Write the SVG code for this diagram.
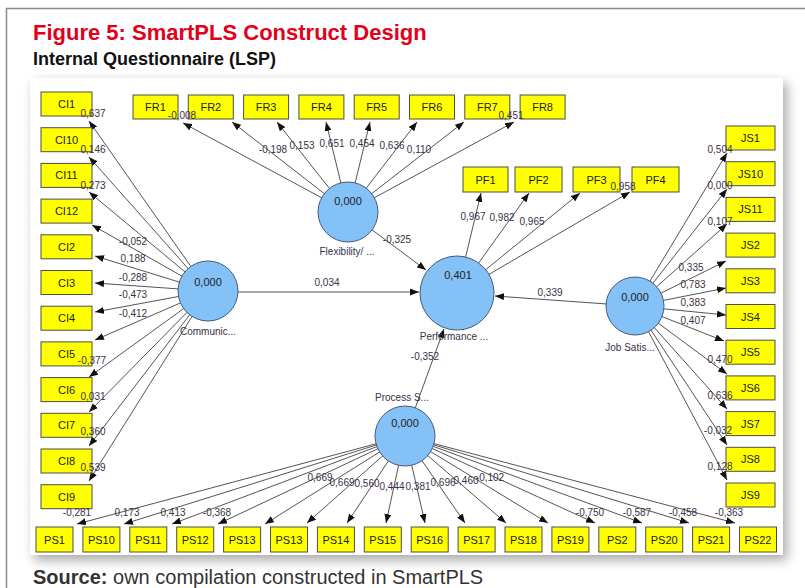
<svg xmlns="http://www.w3.org/2000/svg" width="805" height="588" viewBox="0 0 805 588">
<style>
.bx{fill:#ffff00;stroke:#4d4d4d;stroke-width:1}
.bt{font-family:"Liberation Sans",Arial,sans-serif;font-size:11px;fill:#222;text-anchor:middle}
.cc{fill:#84c1f7;stroke:#45597a;stroke-width:1}
.ct{font-family:"Liberation Sans",Arial,sans-serif;font-size:11px;fill:#222;text-anchor:middle}
.cl{font-family:"Liberation Sans",Arial,sans-serif;font-size:10px;fill:#3a3048;text-anchor:middle}
.c{stroke:#555;stroke-width:1;fill:none;marker-end:url(#ah)}
.v{font-family:"Liberation Sans",Arial,sans-serif;font-size:10px;fill:#3a3048;text-anchor:middle}
</style>
<defs>
<marker id="ah" markerUnits="userSpaceOnUse" markerWidth="9" markerHeight="7" refX="9" refY="3.5" orient="auto"><path d="M0,0 L9,3.5 L0,7 z" fill="#111"/></marker>
<filter id="sh" x="-5%" y="-5%" width="115%" height="115%"><feDropShadow dx="4" dy="5" stdDeviation="6" flood-color="#000" flood-opacity="0.35"/></filter>
</defs>
<rect width="805" height="588" fill="#fff"/>
<rect x="6.5" y="8.5" width="900" height="700" fill="none" stroke="#8c8c8c" stroke-width="1.5"/>
<text x="33" y="40" font-family="'Liberation Sans',Arial,sans-serif" font-size="22" font-weight="bold" fill="#e2001a">Figure 5: SmartPLS Construct Design</text>
<text x="33" y="65" font-family="'Liberation Sans',Arial,sans-serif" font-size="18" font-weight="bold" fill="#111">Internal Questionnaire (LSP)</text>
<rect x="30" y="78" width="753" height="477" fill="#fff" filter="url(#sh)"/>
<text x="33" y="584" font-family="'Liberation Sans',Arial,sans-serif" font-size="20" fill="#333"><tspan font-weight="bold">Source:</tspan> own compilation constructed in SmartPLS</text>

<g id="connectors">
<line class="c" x1="208" y1="291" x2="89" y2="121"/>
<line class="c" x1="208" y1="291" x2="89" y2="157"/>
<line class="c" x1="208" y1="291" x2="89" y2="192"/>
<line class="c" x1="208" y1="291" x2="92" y2="225"/>
<line class="c" x1="208" y1="291" x2="95" y2="256"/>
<line class="c" x1="208" y1="291" x2="95" y2="283"/>
<line class="c" x1="208" y1="291" x2="95" y2="312"/>
<line class="c" x1="208" y1="291" x2="95" y2="340"/>
<line class="c" x1="208" y1="291" x2="89" y2="377"/>
<line class="c" x1="208" y1="291" x2="89" y2="412"/>
<line class="c" x1="208" y1="291" x2="89" y2="446"/>
<line class="c" x1="208" y1="291" x2="89" y2="481"/>
<line class="c" x1="348" y1="212" x2="183" y2="123"/>
<line class="c" x1="348" y1="212" x2="232" y2="122"/>
<line class="c" x1="348" y1="212" x2="277" y2="122"/>
<line class="c" x1="348" y1="212" x2="326" y2="122"/>
<line class="c" x1="348" y1="212" x2="370" y2="122"/>
<line class="c" x1="348" y1="212" x2="417" y2="122"/>
<line class="c" x1="348" y1="212" x2="464" y2="122"/>
<line class="c" x1="348" y1="212" x2="514" y2="122"/>
<line class="c" x1="457" y1="293" x2="481" y2="193"/>
<line class="c" x1="457" y1="293" x2="529" y2="193"/>
<line class="c" x1="457" y1="293" x2="580" y2="193"/>
<line class="c" x1="457" y1="293" x2="630" y2="192"/>
<line class="c" x1="635" y1="306" x2="727" y2="153"/>
<line class="c" x1="635" y1="306" x2="727" y2="189"/>
<line class="c" x1="635" y1="306" x2="727" y2="224"/>
<line class="c" x1="635" y1="306" x2="726" y2="261"/>
<line class="c" x1="635" y1="306" x2="726" y2="288"/>
<line class="c" x1="635" y1="306" x2="726" y2="315"/>
<line class="c" x1="635" y1="306" x2="724" y2="341"/>
<line class="c" x1="635" y1="306" x2="727" y2="374"/>
<line class="c" x1="635" y1="306" x2="727" y2="409"/>
<line class="c" x1="635" y1="306" x2="727" y2="445"/>
<line class="c" x1="635" y1="306" x2="727" y2="480"/>
<line class="c" x1="405" y1="436" x2="77" y2="524"/>
<line class="c" x1="405" y1="436" x2="124" y2="524"/>
<line class="c" x1="405" y1="436" x2="172" y2="524"/>
<line class="c" x1="405" y1="436" x2="218" y2="524"/>
<line class="c" x1="405" y1="436" x2="265" y2="524"/>
<line class="c" x1="405" y1="436" x2="307" y2="523"/>
<line class="c" x1="405" y1="436" x2="347" y2="523"/>
<line class="c" x1="405" y1="436" x2="386" y2="523"/>
<line class="c" x1="405" y1="436" x2="425" y2="523"/>
<line class="c" x1="405" y1="436" x2="465" y2="523"/>
<line class="c" x1="405" y1="436" x2="506" y2="523"/>
<line class="c" x1="405" y1="436" x2="548" y2="523"/>
<line class="c" x1="405" y1="436" x2="595" y2="523"/>
<line class="c" x1="405" y1="436" x2="642" y2="523"/>
<line class="c" x1="405" y1="436" x2="689" y2="523"/>
<line class="c" x1="405" y1="436" x2="735" y2="523"/>
<line class="c" x1="208" y1="292" x2="419" y2="292"/>
<line class="c" x1="348" y1="212" x2="426" y2="270"/>
<line class="c" x1="635" y1="306" x2="495" y2="296"/>
<line class="c" x1="405" y1="436" x2="444" y2="329"/>
</g>

<g id="communication"><circle class="cc" cx="208" cy="291" r="30"/><text class="ct" x="208" y="286">0,000</text><text class="cl" x="208" y="335">Communic...</text></g>
<g id="flexibility"><circle class="cc" cx="348" cy="212" r="30"/><text class="ct" x="348" y="205">0,000</text><text class="cl" x="347" y="255">Flexibility/ ...</text></g>
<g id="performance"><circle class="cc" cx="457" cy="293" r="37"/><text class="ct" x="458" y="279">0,401</text><text class="cl" x="454" y="340">Performance ...</text></g>
<g id="jobsatisfaction"><circle class="cc" cx="635" cy="306" r="29"/><text class="ct" x="635" y="301">0,000</text><text class="cl" x="630" y="351">Job Satis...</text></g>
<g id="process"><circle class="cc" cx="405" cy="436" r="30"/><text class="ct" x="405" y="427">0,000</text><text class="cl" x="402" y="401">Process S...</text></g>

<g id="CI1"><rect class="bx" x="41" y="92" width="51" height="24"/><text class="bt" x="66.5" y="108">CI1</text></g>
<g id="CI10"><rect class="bx" x="41" y="127.7" width="51" height="24"/><text class="bt" x="66.5" y="143.7">CI10</text></g>
<g id="CI11"><rect class="bx" x="41" y="163.4" width="51" height="24"/><text class="bt" x="66.5" y="179.4">CI11</text></g>
<g id="CI12"><rect class="bx" x="41" y="199.1" width="51" height="24"/><text class="bt" x="66.5" y="215.1">CI12</text></g>
<g id="CI2"><rect class="bx" x="41" y="234.8" width="51" height="24"/><text class="bt" x="66.5" y="250.8">CI2</text></g>
<g id="CI3"><rect class="bx" x="41" y="270.5" width="51" height="24"/><text class="bt" x="66.5" y="286.5">CI3</text></g>
<g id="CI4"><rect class="bx" x="41" y="306.2" width="51" height="24"/><text class="bt" x="66.5" y="322.2">CI4</text></g>
<g id="CI5"><rect class="bx" x="41" y="341.9" width="51" height="24"/><text class="bt" x="66.5" y="357.9">CI5</text></g>
<g id="CI6"><rect class="bx" x="41" y="377.6" width="51" height="24"/><text class="bt" x="66.5" y="393.6">CI6</text></g>
<g id="CI7"><rect class="bx" x="41" y="413.3" width="51" height="24"/><text class="bt" x="66.5" y="429.3">CI7</text></g>
<g id="CI8"><rect class="bx" x="41" y="449" width="51" height="24"/><text class="bt" x="66.5" y="465">CI8</text></g>
<g id="CI9"><rect class="bx" x="41" y="484.7" width="51" height="24"/><text class="bt" x="66.5" y="500.7">CI9</text></g>

<g id="FR1"><rect class="bx" x="133" y="95" width="45" height="24"/><text class="bt" x="155.5" y="111">FR1</text></g>
<g id="FR2"><rect class="bx" x="188.3" y="95" width="45" height="24"/><text class="bt" x="210.8" y="111">FR2</text></g>
<g id="FR3"><rect class="bx" x="243.6" y="95" width="45" height="24"/><text class="bt" x="266.1" y="111">FR3</text></g>
<g id="FR4"><rect class="bx" x="298.9" y="95" width="45" height="24"/><text class="bt" x="321.4" y="111">FR4</text></g>
<g id="FR5"><rect class="bx" x="354.2" y="95" width="45" height="24"/><text class="bt" x="376.7" y="111">FR5</text></g>
<g id="FR6"><rect class="bx" x="409.5" y="95" width="45" height="24"/><text class="bt" x="432" y="111">FR6</text></g>
<g id="FR7"><rect class="bx" x="464.8" y="95" width="45" height="24"/><text class="bt" x="487.3" y="111">FR7</text></g>
<g id="FR8"><rect class="bx" x="520.1" y="95" width="45" height="24"/><text class="bt" x="542.6" y="111">FR8</text></g>

<g id="PF1"><rect class="bx" x="463" y="167" width="45" height="25"/><text class="bt" x="485.5" y="183.5">PF1</text></g>
<g id="PF2"><rect class="bx" x="515" y="167" width="47" height="25"/><text class="bt" x="538.5" y="183.5">PF2</text></g>
<g id="PF3"><rect class="bx" x="573" y="167" width="47" height="25"/><text class="bt" x="596.5" y="183.5">PF3</text></g>
<g id="PF4"><rect class="bx" x="632" y="167" width="47" height="25"/><text class="bt" x="655.5" y="183.5">PF4</text></g>

<g id="JS1"><rect class="bx" x="726" y="126" width="49" height="24"/><text class="bt" x="750.5" y="142">JS1</text></g>
<g id="JS10"><rect class="bx" x="726" y="161.7" width="49" height="24"/><text class="bt" x="750.5" y="177.7">JS10</text></g>
<g id="JS11"><rect class="bx" x="726" y="197.4" width="49" height="24"/><text class="bt" x="750.5" y="213.4">JS11</text></g>
<g id="JS2"><rect class="bx" x="726" y="233.1" width="49" height="24"/><text class="bt" x="750.5" y="249.1">JS2</text></g>
<g id="JS3"><rect class="bx" x="726" y="268.8" width="49" height="24"/><text class="bt" x="750.5" y="284.8">JS3</text></g>
<g id="JS4"><rect class="bx" x="726" y="304.5" width="49" height="24"/><text class="bt" x="750.5" y="320.5">JS4</text></g>
<g id="JS5"><rect class="bx" x="726" y="340.2" width="49" height="24"/><text class="bt" x="750.5" y="356.2">JS5</text></g>
<g id="JS6"><rect class="bx" x="726" y="375.9" width="49" height="24"/><text class="bt" x="750.5" y="391.9">JS6</text></g>
<g id="JS7"><rect class="bx" x="726" y="411.6" width="49" height="24"/><text class="bt" x="750.5" y="427.6">JS7</text></g>
<g id="JS8"><rect class="bx" x="726" y="447.3" width="49" height="24"/><text class="bt" x="750.5" y="463.3">JS8</text></g>
<g id="JS9"><rect class="bx" x="726" y="483" width="49" height="24"/><text class="bt" x="750.5" y="499">JS9</text></g>

<g id="PS1"><rect class="bx" x="36" y="527" width="37" height="25"/><text class="bt" x="54.5" y="543.5">PS1</text></g>
<g id="PS10"><rect class="bx" x="82.9" y="527" width="37" height="25"/><text class="bt" x="101.4" y="543.5">PS10</text></g>
<g id="PS11"><rect class="bx" x="129.8" y="527" width="37" height="25"/><text class="bt" x="148.3" y="543.5">PS11</text></g>
<g id="PS12"><rect class="bx" x="176.7" y="527" width="37" height="25"/><text class="bt" x="195.2" y="543.5">PS12</text></g>
<g id="PS13"><rect class="bx" x="223.6" y="527" width="37" height="25"/><text class="bt" x="242.1" y="543.5">PS13</text></g>
<g id="PS13b"><rect class="bx" x="270.5" y="527" width="37" height="25"/><text class="bt" x="289" y="543.5">PS13</text></g>
<g id="PS14"><rect class="bx" x="317.4" y="527" width="37" height="25"/><text class="bt" x="335.9" y="543.5">PS14</text></g>
<g id="PS15"><rect class="bx" x="364.3" y="527" width="37" height="25"/><text class="bt" x="382.8" y="543.5">PS15</text></g>
<g id="PS16"><rect class="bx" x="411.2" y="527" width="37" height="25"/><text class="bt" x="429.7" y="543.5">PS16</text></g>
<g id="PS17"><rect class="bx" x="458.1" y="527" width="37" height="25"/><text class="bt" x="476.6" y="543.5">PS17</text></g>
<g id="PS18"><rect class="bx" x="505" y="527" width="37" height="25"/><text class="bt" x="523.5" y="543.5">PS18</text></g>
<g id="PS19"><rect class="bx" x="551.9" y="527" width="37" height="25"/><text class="bt" x="570.4" y="543.5">PS19</text></g>
<g id="PS2"><rect class="bx" x="598.8" y="527" width="37" height="25"/><text class="bt" x="617.3" y="543.5">PS2</text></g>
<g id="PS20"><rect class="bx" x="645.7" y="527" width="37" height="25"/><text class="bt" x="664.2" y="543.5">PS20</text></g>
<g id="PS21"><rect class="bx" x="692.6" y="527" width="37" height="25"/><text class="bt" x="711.1" y="543.5">PS21</text></g>
<g id="PS22"><rect class="bx" x="739.5" y="527" width="37" height="25"/><text class="bt" x="758" y="543.5">PS22</text></g>

<g id="weights">
<text class="v" x="93" y="117">0,637</text>
<text class="v" x="93" y="153">0,146</text>
<text class="v" x="93" y="189">0,273</text>
<text class="v" x="133" y="245">-0,052</text>
<text class="v" x="133" y="262">0,188</text>
<text class="v" x="133" y="281">-0,288</text>
<text class="v" x="133" y="298">-0,473</text>
<text class="v" x="133" y="317">-0,412</text>
<text class="v" x="92" y="364">-0,377</text>
<text class="v" x="93" y="400">0,031</text>
<text class="v" x="93" y="435">0,360</text>
<text class="v" x="93" y="471">0,539</text>
<text class="v" x="182" y="119">-0,008</text>
<text class="v" x="273" y="153">-0,198</text>
<text class="v" x="302" y="149">0,153</text>
<text class="v" x="332" y="147">0,651</text>
<text class="v" x="362" y="147">0,454</text>
<text class="v" x="392" y="149">0,636</text>
<text class="v" x="419" y="153">0,110</text>
<text class="v" x="511" y="119">0,451</text>
<text class="v" x="397" y="243">-0,325</text>
<text class="v" x="327" y="286">0,034</text>
<text class="v" x="550" y="296">0,339</text>
<text class="v" x="425" y="360">-0,352</text>
<text class="v" x="473" y="220">0,967</text>
<text class="v" x="502" y="221">0,982</text>
<text class="v" x="532" y="225">0,965</text>
<text class="v" x="623" y="190">0,958</text>
<text class="v" x="720" y="153">0,504</text>
<text class="v" x="720" y="189">0,000</text>
<text class="v" x="720" y="225">0,107</text>
<text class="v" x="691" y="271">0,335</text>
<text class="v" x="693" y="288">0,783</text>
<text class="v" x="693" y="306">0,383</text>
<text class="v" x="693" y="324">0,407</text>
<text class="v" x="720" y="363">0,470</text>
<text class="v" x="720" y="399">0,636</text>
<text class="v" x="718" y="434">-0,032</text>
<text class="v" x="720" y="470">0,128</text>
<text class="v" x="77" y="516">-0,281</text>
<text class="v" x="127" y="516">0,173</text>
<text class="v" x="173" y="516">0,413</text>
<text class="v" x="217" y="516">-0,368</text>
<text class="v" x="320" y="481">0,669</text>
<text class="v" x="342" y="486">0,669</text>
<text class="v" x="367" y="487">0,560</text>
<text class="v" x="392" y="490">0,444</text>
<text class="v" x="418" y="490">0,381</text>
<text class="v" x="443" y="486">0,696</text>
<text class="v" x="466" y="484">0,460</text>
<text class="v" x="490" y="481">-0,102</text>
<text class="v" x="590" y="516">-0,750</text>
<text class="v" x="637" y="516">-0,587</text>
<text class="v" x="683" y="516">-0,458</text>
<text class="v" x="729" y="516">-0,363</text>
</g>
</svg>
